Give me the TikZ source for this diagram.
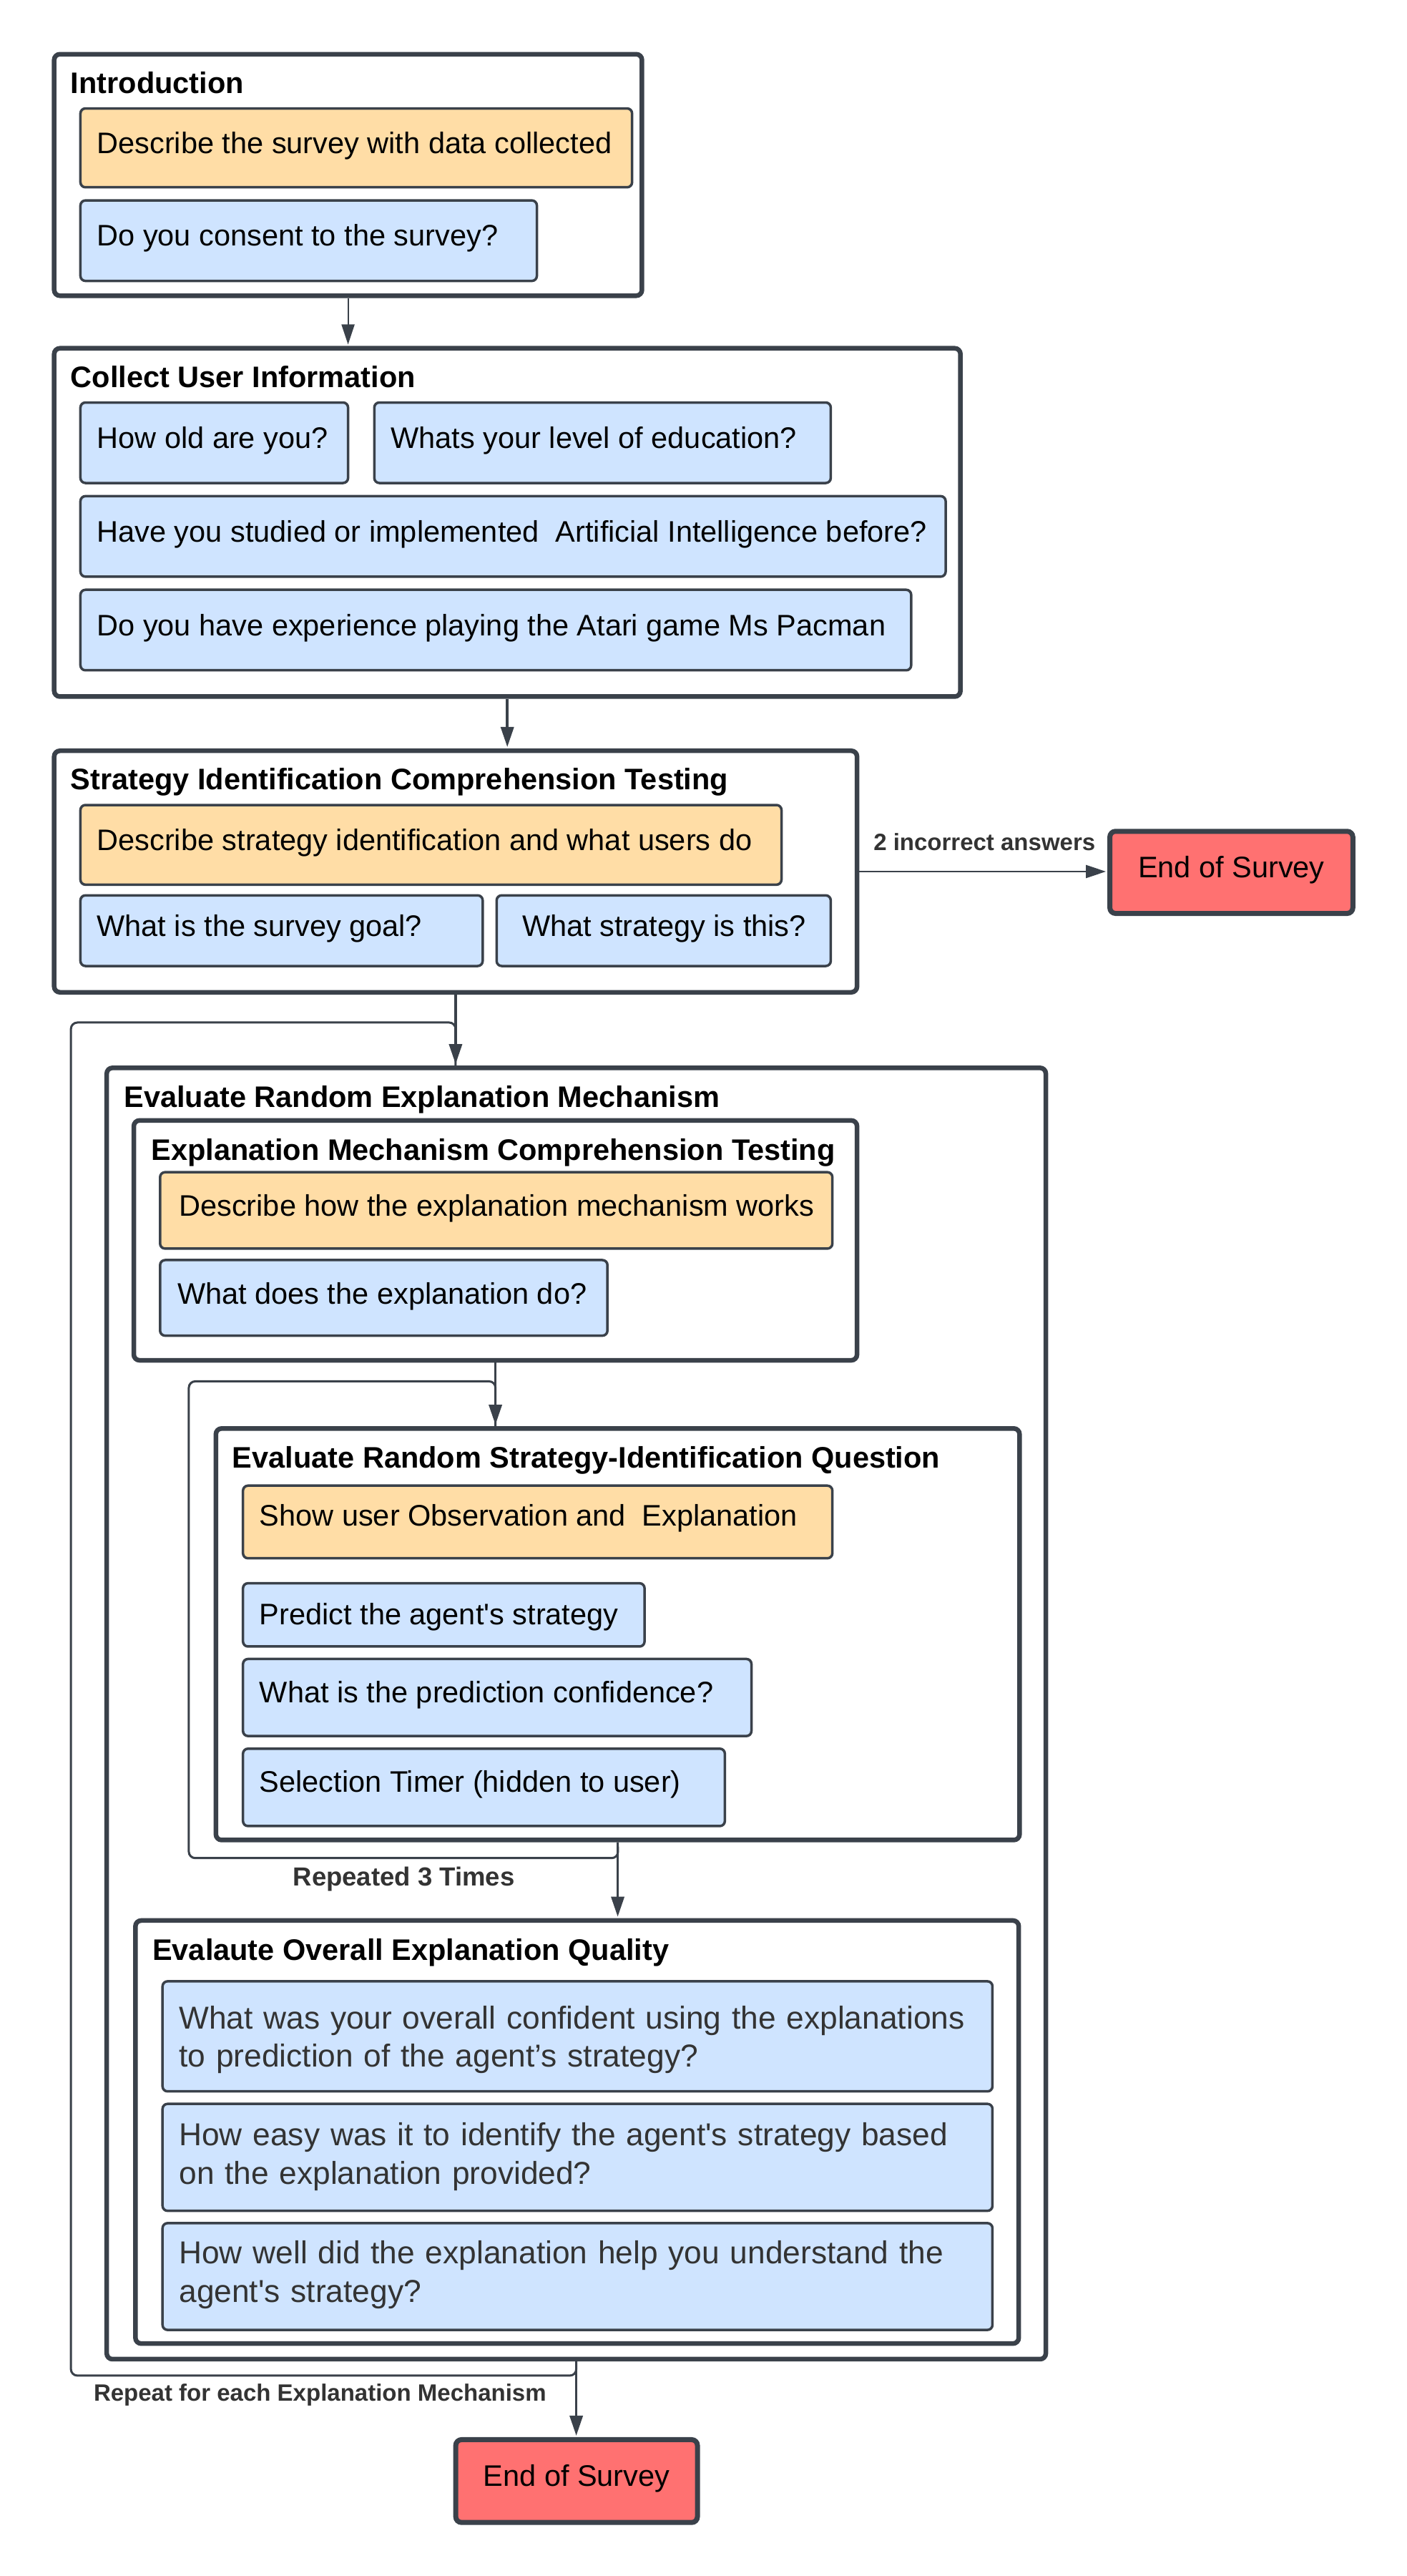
\documentclass[tikz,border=0pt]{standalone}
\usepackage{fontspec}
\setmainfont{Liberation Sans}
\usetikzlibrary{arrows.meta,fit}
\definecolor{bord}{HTML}{3A414A}
\definecolor{orangef}{HTML}{FFDDA6}
\definecolor{bluef}{HTML}{CFE4FF}
\definecolor{redf}{HTML}{FF7171}
\definecolor{lblc}{HTML}{333333}
\definecolor{qgray}{HTML}{333333}
\begin{document}
\begin{tikzpicture}[x=2.2952pt,y=-2.2959pt,
  container/.style={draw=bord, line width=6.5pt, rounded corners=8pt, inner sep=0pt},
  qbox/.style={draw=bord, line width=3.5pt, rounded corners=7pt, inner sep=0pt},
  obox/.style={qbox, fill=orangef},
  bbox/.style={qbox, fill=bluef},
  endbox/.style={draw=bord, line width=7pt, rounded corners=8pt, fill=redf, inner sep=0pt},
  ttl/.style={font=\fontsize{41.5}{50}\selectfont\bfseries, inner sep=0pt, anchor=base west},
  txt/.style={font=\fontsize{41.5}{50}\selectfont, inner sep=0pt, anchor=base west},
  ctxt/.style={font=\fontsize{41.5}{50}\selectfont, inner sep=0pt, anchor=base},
  qtxt/.style={font=\fontsize{44.3}{53.7}\selectfont, text=qgray, inner sep=0pt, anchor=base west, text width=1170pt, align=left},
  lbl/.style={font=\fontsize{33}{40}\selectfont\bfseries, text=lblc, inner sep=0pt, anchor=base west},
  conn/.style={draw=bord, line width=3.5pt, -{Triangle[length=28pt,width=18pt]}, shorten >=2pt},
  thinconn/.style={draw=bord, line width=2pt, -{Triangle[length=28pt,width=18pt]}, shorten >=2pt},
  loopline/.style={draw=bord, line width=3pt, rounded corners=9pt}
]
\useasboundingbox (0,0) rectangle (857,1568);
\fill[white] (0,0) rectangle (857,1568);

% ---------- Introduction
\node[container, fit={(33,33)(391,180)}] (intro) {};
\node[ttl] (introT) at (43,56.9) {Introduction};
\node[obox, fit={(49,66)(385,114)}] (introO) {};
\node[txt] (introOt) at (59,93.3) {Describe the survey with data collected};
\node[bbox, fit={(49,122)(327,171)}] (introB) {};
\node[txt] (introBt) at (59,149.8) {Do you consent to the survey?};

% ---------- Collect User Information
\node[container, fit={(33,212)(585,424)}] (coll) {};
\node[ttl] (collT) at (43,235.7) {Collect User Information};
\node[bbox, fit={(49,245)(212,294)}] (q1) {};
\node[txt] (q1t) at (59,272.8) {How old are you?};
\node[bbox, fit={(228,245)(506,294)}] (q2) {};
\node[txt] (q2t) at (238,272.8) {Whats your level of education?};
\node[bbox, fit={(49,302)(576,351)}] (q3) {};
\node[txt] (q3t) at (59,329.8) {Have you studied or implemented~ Artificial Intelligence before?};
\node[bbox, fit={(49,359)(555,408)}] (q4) {};
\node[txt] (q4t) at (59,386.8) {Do you have experience playing the Atari game Ms Pacman};

% ---------- Strategy Identification Comprehension Testing
\node[container, fit={(33,457)(522,604)}] (strat) {};
\node[ttl] (stratT) at (43,480.5) {Strategy Identification Comprehension Testing};
\node[obox, fit={(49,490)(476,538.5)}] (sO) {};
\node[txt] (sOt) at (59,517.6) {Describe strategy identification and what users do};
\node[bbox, fit={(49,545)(294,588)}] (sB1) {};
\node[txt] (sB1t) at (59,569.9) {What is the survey goal?};
\node[bbox, fit={(302.5,545)(506,588)}] (sB2) {};
\node[ctxt] (sB2t) at (404.5,569.9) {What strategy is this?};

% ---------- End of survey (early)
\node[endbox, fit={(676,506)(824,556)}] (end1) {};
\node[ctxt] (end1t) at (750,534.2) {End of Survey};

% ---------- Evaluate Random Explanation Mechanism
\node[container, fit={(65,650)(637,1436)}] (erem) {};
\node[ttl] (eremT) at (75.5,674) {Evaluate Random Explanation Mechanism};

\node[container, fit={(81.5,682)(522,828)}] (emct) {};
\node[ttl] (emctT) at (92,706.2) {Explanation Mechanism Comprehension Testing};
\node[obox, fit={(97.5,713.5)(507,760)}] (eO) {};
\node[txt] (eOt) at (109,740.3) {Describe how the explanation mechanism works};
\node[bbox, fit={(97.5,767)(370,813)}] (eB) {};
\node[txt] (eBt) at (108,793.8) {What does the explanation do?};

\node[container, fit={(131.5,869.5)(621,1120)}] (ersi) {};
\node[ttl] (ersiT) at (141.5,893.5) {Evaluate Random Strategy-Identification Question};
\node[obox, fit={(148,904.3)(507,948.5)}] (rO) {};
\node[txt] (rOt) at (158,928.7) {Show user Observation and~ Explanation};
\node[bbox, fit={(148,963.7)(392.6,1002.2)}] (rB1) {};
\node[txt] (rB1t) at (158,989) {Predict the agent\textquotesingle s strategy};
\node[bbox, fit={(148,1009.8)(457.7,1056.7)}] (rB2) {};
\node[txt] (rB2t) at (158,1036.6) {What is the prediction confidence?};
\node[bbox, fit={(148,1064.4)(441.5,1111.5)}] (rB3) {};
\node[txt] (rB3t) at (158,1091) {Selection Timer (hidden to user)};

\node[container, fit={(82.5,1169)(620.5,1426.5)}] (overall) {};
\node[ttl] (overallT) at (92.8,1193) {Evalaute Overall Explanation Quality};
\node[bbox, fit={(99,1206)(604.5,1273)}] (oB1) {};
\node[qtxt] (oB1t) at (109,1234.8) {What was your overall confident using the explanations\\to prediction of the agent’s strategy?};
\node[bbox, fit={(99,1280.6)(604.5,1345.7)}] (oB2) {};
\node[qtxt] (oB2t) at (109,1306) {How easy was it to identify the agent\textquotesingle s strategy based\\on the explanation provided?};
\node[bbox, fit={(99,1353.2)(604.5,1418.2)}] (oB3) {};
\node[qtxt] (oB3t) at (109,1378) {How well did the explanation help you understand the\\agent\textquotesingle s strategy?};

% ---------- Final end of survey
\node[endbox, fit={(277.6,1485)(424.8,1535.4)}] (end2) {};
\node[ctxt] (end2t) at (351.2,1513.3) {End of Survey};

% ---------- loop lines
\coordinate (oa) at (351,1446);
\coordinate (ob) at (43.2,1446);
\coordinate (oc) at (43.2,622.4);
\coordinate (od) at (277.5,622.4);
\draw[loopline] (erem.south) -- (oa) -- (ob) -- (oc) -- (od) -- (strat.south |- erem.north);
\coordinate (ia) at (376.5,1131);
\coordinate (ib) at (115,1131);
\coordinate (ic) at (115,840.8);
\coordinate (id) at (301.8,840.8);
\draw[loopline] (ersi.south) -- (ia) -- (ib) -- (ic) -- (id) -- (emct.south |- ersi.north);

% ---------- connectors
\draw[thinconn] (intro.south) -- (intro.south |- coll.north);
\draw[conn] (coll.south) -- (coll.south |- strat.north);
\draw[conn, line width=2.5pt] (strat.east) -- (strat.east -| end1.west);
\draw[conn] (strat.south) -- (strat.south |- erem.north);
\draw[conn] (emct.south) -- (emct.south |- ersi.north);
\draw[conn] (ersi.south) -- (ersi.south |- overall.north);
\draw[conn] (erem.south) -- (erem.south |- end2.north);

% ---------- labels
\node[lbl] (lblInc) at (532,517.5) {2 incorrect answers};
\node[lbl, font=\fontsize{36.5}{44}\selectfont\bfseries] (lblRep3) at (178.4,1147.7) {Repeated 3 Times};
\node[lbl] (lblRepEM) at (57,1461.3) {Repeat for each Explanation Mechanism};
\end{tikzpicture}
\end{document}
